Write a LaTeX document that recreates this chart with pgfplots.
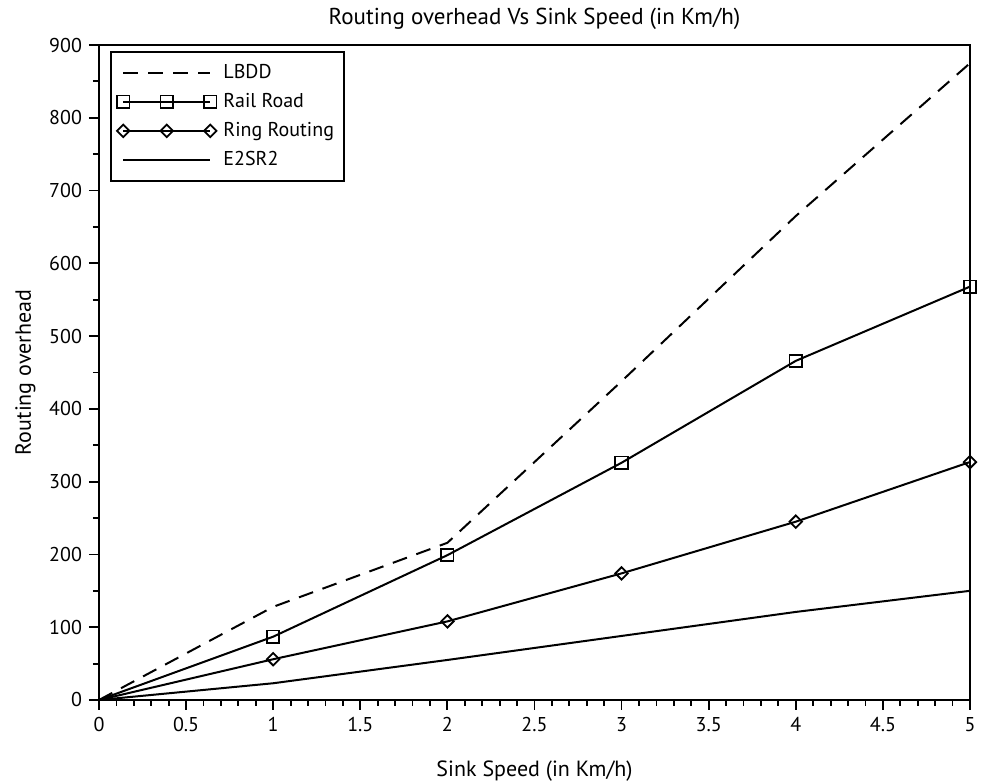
\documentclass[border=0pt]{standalone}
\usepackage{fontspec}
\setmainfont{PT Sans}
\usepackage{pgfplots}
\pgfplotsset{compat=1.18}

\begin{document}
\begin{tikzpicture}
\begin{axis}[
  scale only axis,
  width=435.5pt, height=327.5pt,
  xmin=0, xmax=5, ymin=0, ymax=900,
  xtick={0,0.5,...,5},
  xticklabels={0,0.5,1,1.5,2,2.5,3,3.5,4,4.5,5},
  ytick={0,100,...,900},
  minor x tick num=4,
  minor y tick num=1,
  tick align=outside,
  xtick pos=left, ytick pos=left,
  major tick length=5pt, minor tick length=3pt,
  tick style={black, line width=0.9pt},
  axis line style={line width=1pt},
  /pgf/number format/assume math mode=true,
  ticklabel style={font=\fontsize{10}{11}\selectfont},
  title={Routing overhead Vs Sink Speed (in Km/h)},
  title style={font=\fontsize{11.5}{13}\selectfont, yshift=-2pt},
  xlabel={Sink Speed (in Km/h)},
  ylabel={Routing overhead},
  label style={font=\fontsize{11}{13}\selectfont},
  xlabel style={yshift=-8pt},
  ylabel style={yshift=0pt},
  legend style={at={(rel axis cs:0,1)}, anchor=north west, xshift=5.5pt, yshift=-3pt,
    draw=black, line width=1pt, font=\fontsize{10}{11}\selectfont,
    row sep=2pt, column sep=1.5pt, inner xsep=3pt, inner ysep=4pt},
  legend cell align=left,
  every axis plot/.append style={line width=1pt, black},
  legend image code/.code={\draw[mark indices={1,2,3}] plot coordinates {(0pt,0pt) (21.75pt,0pt) (43.5pt,0pt)};},
]
% LBDD
\addplot[dash pattern=on 7.5pt off 5pt, mark=none] coordinates {
  (0,0) (1,128) (2,216) (3,438) (4,665) (5,875)};
\addlegendentry{LBDD}
% Rail Road
\addplot[mark=square, mark size=3.1pt, mark options={solid, line width=0.9pt, fill=white},
  mark indices={2,3,4,5,6}] coordinates {
  (0,0) (1,87) (2,199) (3,326) (4,466) (5,568)};
\addlegendentry{Rail Road}
% Ring Routing
\addplot[mark=square, mark size=2.2pt, mark options={solid, rotate=45, line width=0.9pt, fill=white},
  mark indices={2,3,4,5,6}] coordinates {
  (0,0) (1,56) (2,108) (3,174) (4,245) (5,327)};
\addlegendentry{Ring Routing}
% E2SR2
\addplot[mark=none] coordinates {
  (0,0) (1,23) (2,55) (3,88) (4,121) (5,150)};
\addlegendentry{E2SR2}
\end{axis}
\pgfresetboundingbox
\path (current axis.south west) ++(-49.5pt,-41.5pt) coordinate (bbsw);
\path (current axis.north east) ++(7pt,22.5pt) coordinate (bbne);
\path[use as bounding box] (bbsw) rectangle (bbne);
\end{tikzpicture}
\end{document}
